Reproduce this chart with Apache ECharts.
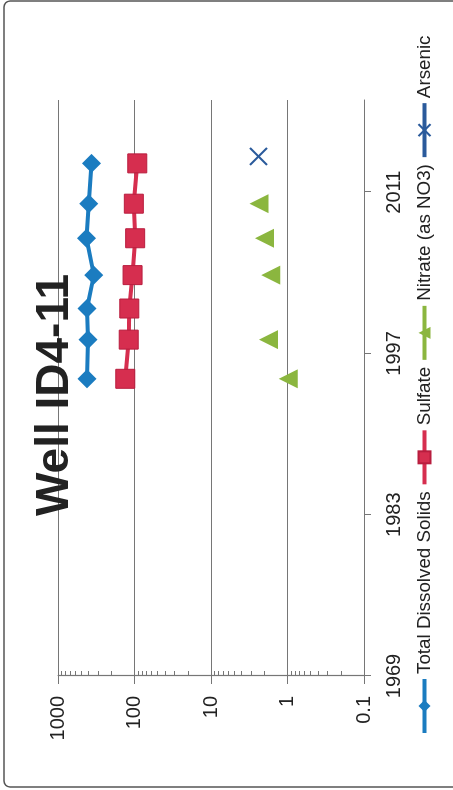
<!DOCTYPE html>
<html><head><meta charset="utf-8">
<script src="https://cdn.jsdelivr.net/npm/echarts@6/dist/echarts.min.js"></script>
<style>
html,body{margin:0;padding:0;width:453px;height:790px;overflow:hidden;background:#fff;}
#chart{position:absolute;left:0;top:0;width:790px;height:453px;transform-origin:0 0;transform:translateY(790px) rotate(-90deg);}
</style></head><body><div id="chart"></div>
<script>
const titleText = 'Well ID4-11';
const seriesNames = ['Total Dissolved Solids', 'Sulfate', 'Nitrate (as NO3)', 'Arsenic'];
const sampleYears = [1994.8, 1998.2, 2000.9, 2003.8, 2007.0, 2010.0, 2013.5];
const tdsValues = [417, 405, 417, 340, 425, 396, 365];
const sulfateValues = [132, 119, 117, 106, 98, 102, 92];
const nitrateYears = [1994.8, 1998.2, 2003.8, 2007.0, 2010.0];
const nitrateValues = [0.98, 1.77, 1.66, 2.0, 2.35];
const arsenicYears = [2014.1];
const arsenicValues = [2.39];
const yearTicks = [1969, 1983, 1997, 2011];
const minorLogTicks = [0.2,0.3,0.4,0.5,0.6,0.7,0.8,0.9, 2,3,4,5,6,7,8,9, 20,30,40,50,60,70,80,90, 200,300,400,500,600,700,800,900];

const pairs = (xs, ys) => xs.map((x, i) => [x, ys[i]]);
const FONT = '"Liberation Sans", Arial, sans-serif';
const GRID = '#767676';

const chart = echarts.init(document.getElementById('chart'), null, {renderer: 'canvas'});
chart.setOption({
  animation: false,
  backgroundColor: '#fff',
  textStyle: {fontFamily: FONT},
  title: {
    text: titleText, left: 'center', top: 27,
    textStyle: {fontSize: 46, fontWeight: 'bold', color: '#222', fontFamily: FONT}
  },
  graphic: [{
    type: 'rect', silent: true,
    shape: {x: 3, y: 4, width: 786, height: 480, r: 6},
    style: {fill: 'none', stroke: '#555', lineWidth: 1.5}
  }],
  legend: {
    data: seriesNames,
    left: 50, top: 410, orient: 'horizontal',
    itemWidth: 54, itemHeight: 15, itemGap: 5,
    lineStyle: {width: 4, opacity: 1},
    textStyle: {fontSize: 18.8, color: '#222', fontFamily: FONT}
  },
  grid: {left: 114, right: 100, top: 58, bottom: 89, containLabel: false},
  xAxis: {
    type: 'value', min: 1969, max: 2019, position: 'bottom',
    axisLine: {show: true, lineStyle: {color: GRID, width: 1.2}},
    axisTick: {show: true, length: 7, customValues: yearTicks, lineStyle: {color: GRID}},
    axisLabel: {customValues: yearTicks, fontSize: 20, color: '#222', margin: 20, fontFamily: FONT,
      formatter: v => String(Math.round(v))},
    splitLine: {show: false}
  },
  yAxis: [{
    type: 'log', logBase: 10, min: 0.1, max: 1000, position: 'left',
    axisLine: {show: true, lineStyle: {color: GRID, width: 1.2}},
    axisTick: {show: true, length: 8, lineStyle: {color: GRID}},
    axisLabel: {fontSize: 20, color: '#222', margin: 20, fontFamily: FONT,
      formatter: v => String(v)},
    splitLine: {show: true, lineStyle: {color: GRID, width: 1.2}}
  }, {
    type: 'log', logBase: 10, min: 0.1, max: 1000, position: 'left',
    axisLine: {show: false},
    axisTick: {show: true, inside: true, length: 5, customValues: minorLogTicks, lineStyle: {color: GRID}},
    axisLabel: {show: false},
    splitLine: {show: false}
  }],
  series: [{
    name: seriesNames[0], type: 'line', yAxisIndex: 0,
    data: pairs(sampleYears, tdsValues),
    symbol: 'diamond', symbolSize: 19,
    itemStyle: {color: '#1b7cc0'},
    lineStyle: {color: '#1b7cc0', width: 4}
  }, {
    name: seriesNames[1], type: 'line', yAxisIndex: 0,
    data: pairs(sampleYears, sulfateValues),
    symbol: 'rect', symbolSize: 19,
    itemStyle: {color: '#d62e4f', borderColor: '#b81d3e', borderWidth: 1},
    lineStyle: {color: '#d62e4f', width: 4}
  }, {
    name: seriesNames[2], type: 'line', yAxisIndex: 0,
    data: pairs(nitrateYears, nitrateValues),
    symbol: 'triangle', symbolSize: 19,
    itemStyle: {color: '#8bb63f'},
    lineStyle: {color: '#8bb63f', width: 4, opacity: 0}
  }, {
    name: seriesNames[3], type: 'line', yAxisIndex: 0,
    data: pairs(arsenicYears, arsenicValues),
    symbol: 'path://M0,0L20,20M20,0L0,20', symbolSize: 17,
    itemStyle: {color: '#2a5a9b', borderColor: '#2a5a9b', borderWidth: 2},
    lineStyle: {color: '#2a5a9b', width: 4}
  }]
});
</script></body></html>
